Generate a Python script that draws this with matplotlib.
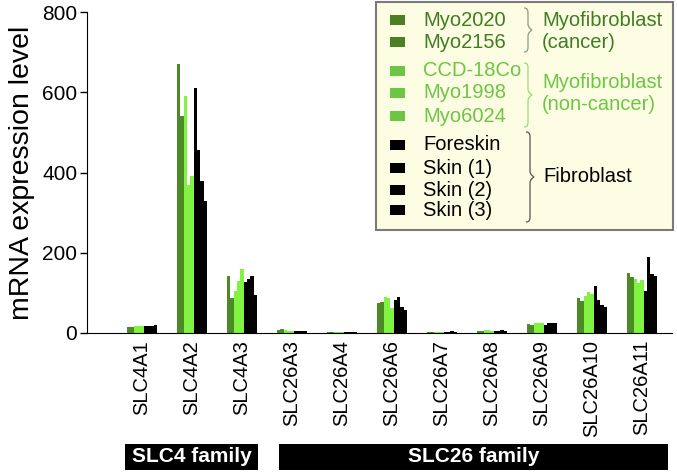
import numpy as np
import matplotlib
matplotlib.use("Agg")
import matplotlib.pyplot as plt
from matplotlib.path import Path
from matplotlib.patches import PathPatch, Rectangle

#=======================================================
# Data
#=======================================================

genes = ["SLC4A1", "SLC4A2", "SLC4A3", "SLC26A3", "SLC26A4", "SLC26A6",
         "SLC26A7", "SLC26A8", "SLC26A9", "SLC26A10", "SLC26A11"]

samples = ["Myo2020", "Myo2156", "CCD-18Co", "Myo1998", "Myo6024",
           "Foreskin", "Skin (1)", "Skin (2)", "Skin (3)"]

# one row per gene, one column per sample
expr = [
    [16, 16, 17, 17, 17, 17, 18, 18, 20],
    [670, 540, 590, 368, 392, 610, 455, 378, 330],
    [142, 88, 105, 130, 160, 128, 135, 143, 95],
    [7, 10, 7, 6, 5, 4, 5, 4, 4],
    [2, 2, 3, 2, 2, 3, 3, 3, 3],
    [75, 78, 90, 88, 62, 82, 90, 65, 58],
    [2, 2, 3, 3, 2, 3, 3, 4, 3],
    [6, 6, 7, 7, 6, 6, 6, 7, 6],
    [22, 21, 24, 26, 25, 21, 26, 24, 25],
    [86, 80, 92, 103, 98, 116, 82, 69, 66],
    [150, 140, 135, 125, 132, 105, 190, 146, 143],
]

groups = ["Myofibroblast\n(cancer)", "Myofibroblast\n(non-cancer)", "Fibroblast"]
group_of = [0, 0, 1, 1, 1, 2, 2, 2, 2]

families = ["SLC4 family", "SLC26 family"]

yticks = [0, 200, 400, 600, 800]

#=======================================================
# Style
#=======================================================

plt.rcParams['font.family'] = ['Liberation Sans', 'DejaVu Sans']

bar_col = ["#4b8a24", "#80f440", "#000000"]
sw_col = ["#4b7f23", "#6cc644", "#000000"]
txt_col = ["#3f7d22", "#6cc644", "#000000"]
brace_col = ["#8a9a7a", "#9ad87a", "#555555"]

W, H = 677, 472
fig = plt.figure(figsize=(W/100, H/100), dpi=100)

ax = fig.add_axes([87/W, (H-333)/H, (672-87)/W, (333-12)/H])

#=======================================================
# Bars
#=======================================================

data = np.array(expr, dtype=float)
x = np.arange(len(genes))
n = len(samples)
bw = 0.6/n
for j in range(n):
    ax.bar(x - 0.3 + bw*(j+0.5), data[:, j], width=bw,
           color=bar_col[group_of[j]], linewidth=0)

ax.set_xlim(-1.1, 10.6)
ax.set_ylim(0, 800)
ax.set_yticks(yticks)
ax.tick_params(axis='y', labelsize=15, length=5, width=1, pad=2)
ax.set_xticks(x)
ax.set_xticklabels(genes, rotation=90, fontsize=14.5)
ax.tick_params(axis='x', length=0, pad=5)
ax.set_ylabel("mRNA expression level", fontsize=20.5, labelpad=5)
for s in ['top', 'right']:
    ax.spines[s].set_visible(False)

#=======================================================
# Overlay in pixel coordinates (legend + family boxes)
#=======================================================

ov = fig.add_axes([0, 0, 1, 1], zorder=5)
ov.set_xlim(0, W)
ov.set_ylim(H, 0)
ov.axis('off')
ov.patch.set_alpha(0)

ov.add_patch(Rectangle((376, 2), 297, 228, facecolor="#fdfde3",
                       edgecolor="#7a7a7a", linewidth=1.5))

rows = [20, 42, 71, 93, 116, 145, 168, 190, 210]
for j, name in enumerate(samples):
    g = group_of[j]
    ov.add_patch(Rectangle((390, rows[j]-5), 15, 10, facecolor=sw_col[g],
                           edgecolor='none'))
    ov.text(423, rows[j], name, fontsize=14.5, color=txt_col[g],
            va='center', ha='left')


def brace(x0, y0, y1, w, color):
    ym = (y0 + y1)/2
    h = w/2
    r = 6
    verts = [(x0, y0), (x0+h, y0), (x0+h, y0+r/2), (x0+h, y0+r),
             (x0+h, ym-r),
             (x0+h, ym-r/3), (x0+w, ym), (x0+w, ym),
             (x0+w, ym), (x0+h, ym+r/3), (x0+h, ym+r),
             (x0+h, y1-r),
             (x0+h, y1-r/2), (x0+h, y1), (x0, y1)]
    codes = [Path.MOVETO] + [Path.CURVE4]*3 + [Path.LINETO] + \
            [Path.CURVE4]*3 + [Path.CURVE4]*3 + [Path.LINETO] + [Path.CURVE4]*3
    ov.add_patch(PathPatch(Path(verts, codes), facecolor='none',
                           edgecolor=color, linewidth=0.9))


brace(524, 8, 52, 8, brace_col[0])
brace(524, 63, 127, 8, brace_col[1])
brace(526, 132, 222, 8, brace_col[2])

ov.text(542, 31, groups[0], fontsize=14.5, color=txt_col[0], va='center',
        ha='left', linespacing=1.2)
ov.text(542, 94, groups[1], fontsize=14.5, color=txt_col[1], va='center',
        ha='left', linespacing=1.2)
ov.text(543, 177, groups[2], fontsize=14.5, color=txt_col[2], va='center',
        ha='left')

ov.add_patch(Rectangle((125, 444), 133, 26, facecolor='black', edgecolor='none'))
ov.add_patch(Rectangle((279, 444), 389, 26, facecolor='black', edgecolor='none'))
ov.text((125+258)/2, 457, families[0], fontsize=15, fontweight='bold',
        color='white', ha='center', va='center')
ov.text((279+668)/2, 457, families[1], fontsize=15, fontweight='bold',
        color='white', ha='center', va='center')

fig.savefig("out.png", dpi=100)
